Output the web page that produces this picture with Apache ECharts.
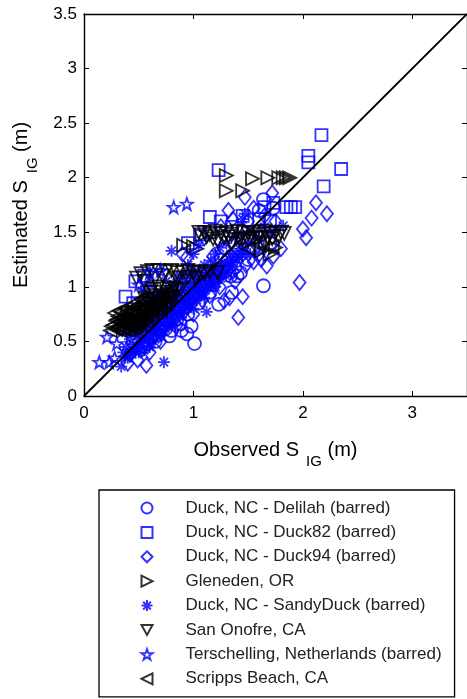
<!DOCTYPE html>
<html>
<head>
<meta charset="utf-8">
<script src="https://cdn.jsdelivr.net/npm/echarts@6/dist/echarts.min.js"></script>
<style>
  html, body { margin: 0; padding: 0; background: #fff; }
  #chart { width: 467px; height: 699px; }
</style>
</head>
<body>
<div id="chart"></div>
<script>
let names = [
  "Duck, NC - Delilah (barred)",
  "Duck, NC - Duck82 (barred)",
  "Duck, NC - Duck94 (barred)",
  "Gleneden, OR",
  "Duck, NC - SandyDuck (barred)",
  "San Onofre, CA",
  "Terschelling, Netherlands (barred)",
  "Scripps Beach, CA",
];

// [observed, estimated]
let delilah = [
  [1.64, 1.01], [1.01, 0.48], [0.94, 0.57], [0.98, 0.64], [0.89, 0.6], [1.43, 1.13],
  [1.4, 1.1], [1.23, 0.84], [1.64, 1.8], [1.73, 1.72], [1.6, 1.7], [0.55, 0.45],
  [0.65, 0.5], [0.75, 0.62], [0.85, 0.7], [0.7, 0.8], [0.8, 0.85], [0.9, 0.92],
  [1.0, 0.9], [1.1, 1.0], [1.15, 0.95], [1.2, 1.1], [1.3, 1.15], [1.5, 1.25],
  [1.55, 1.35], [1.7, 1.4], [0.6, 0.7], [0.5, 0.6], [0.45, 0.5], [1.05, 0.85],
  [0.95, 0.75], [0.78, 0.55], [1.35, 0.95], [1.45, 1.45], [1.25, 1.25],
  [0.58, 0.48], [0.62, 0.54], [0.68, 0.56], [0.72, 0.66], [0.76, 0.69], [0.82, 0.72],
  [0.86, 0.8], [0.92, 0.82], [0.96, 0.88], [1.02, 0.94], [1.06, 1.02], [1.12, 1.04],
  [1.18, 1.02], [1.22, 1.16], [1.28, 1.18], [1.34, 1.1], [0.88, 0.66], [0.8, 0.6],
  [0.7, 0.6], [1.38, 1.18],
];
let duck82 = [
  [2.17, 2.39], [2.05, 2.2], [2.05, 2.14], [2.35, 2.08], [2.19, 1.92], [1.23, 2.07],
  [1.85, 1.73], [1.89, 1.73], [1.93, 1.73], [1.15, 1.64], [1.06, 1.48], [0.38, 0.91],
  [0.47, 1.05], [1.25, 1.6], [1.65, 1.73], [1.73, 1.77], [1.35, 1.55], [1.45, 1.65],
  [1.6, 1.62], [0.55, 1.1], [0.45, 0.85], [0.6, 0.95], [0.95, 1.4], [1.15, 1.5],
  [1.5, 1.45], [1.7, 1.6],
];
let duck94 = [
  [1.97, 1.04], [2.12, 1.77], [2.22, 1.67], [2.08, 1.63], [2.0, 1.53], [2.03, 1.45],
  [1.41, 0.72], [1.45, 0.91], [1.33, 0.9], [0.57, 0.28], [0.49, 0.33], [1.73, 1.28],
  [1.67, 1.19], [1.55, 1.23], [1.47, 1.82], [1.72, 1.86], [1.32, 1.7], [0.94, 1.27],
  [0.9, 1.3], [1.28, 0.87], [1.38, 1.05], [1.6, 1.3], [1.8, 1.35], [1.5, 1.6],
  [1.25, 1.55], [1.1, 1.45], [1.3, 1.25], [1.4, 1.35], [1.2, 1.05], [1.15, 0.92],
  [1.0, 0.75], [0.85, 0.65], [0.7, 0.5], [0.6, 0.4], [0.42, 0.38], [1.75, 1.6],
  [1.65, 1.65], [1.55, 1.72], [0.4, 0.3], [0.52, 0.42], [0.64, 0.55], [0.78, 0.68],
  [0.92, 0.78], [1.08, 0.88], [1.24, 1.0], [1.36, 1.14], [1.48, 1.2], [1.62, 1.25],
  [1.58, 1.38], [1.44, 1.52], [1.36, 1.62], [1.28, 1.35], [1.18, 1.28],
];
let gleneden = [
  [1.3, 2.02], [1.54, 1.99], [1.68, 2.0], [1.78, 2.0], [1.82, 2.0], [1.85, 2.0],
  [1.88, 2.0], [1.3, 1.88], [1.45, 1.88], [0.91, 1.38], [1.03, 1.35], [1.0, 1.37],
  [1.08, 1.47], [1.62, 1.33], [1.75, 1.36], [1.7, 1.3],
];
let sandyDuck = [
  [0.34, 0.27], [0.73, 0.31], [0.38, 0.36], [0.42, 0.4], [0.45, 0.47], [0.48, 0.44],
  [0.5, 0.52], [0.52, 0.58], [0.55, 0.5], [0.58, 0.62], [0.6, 0.55], [0.62, 0.68],
  [0.64, 0.6], [0.66, 0.72], [0.68, 0.64], [0.7, 0.78], [0.72, 0.7], [0.74, 0.82],
  [0.76, 0.74], [0.78, 0.88], [0.8, 0.78], [0.82, 0.92], [0.84, 0.84], [0.86, 0.96],
  [0.88, 0.86], [0.9, 1.0], [0.92, 0.9], [0.94, 1.04], [0.96, 0.94], [0.98, 1.08],
  [1.0, 0.96], [1.02, 1.12], [1.04, 1.0], [1.06, 1.16], [1.08, 1.04], [1.1, 1.2],
  [1.12, 0.77], [1.14, 1.1], [1.16, 1.24], [1.18, 1.14], [1.2, 1.3], [1.22, 1.18],
  [1.24, 1.36], [1.26, 1.22], [1.3, 1.4], [1.34, 1.3], [1.38, 1.45], [1.42, 1.35],
  [1.45, 1.62], [1.47, 1.67], [1.5, 1.4], [1.55, 1.5], [1.6, 1.45], [1.65, 1.55],
  [1.7, 1.48], [1.75, 1.52], [1.82, 1.56], [0.8, 1.33], [0.55, 0.95], [0.6, 1.02],
  [0.5, 0.85], [0.45, 0.72], [0.4, 0.6], [0.65, 0.85], [0.7, 0.95], [0.75, 1.05],
  [0.85, 1.1], [0.95, 1.2], [1.0, 1.3], [1.05, 1.38], [0.9, 0.75], [1.0, 0.8],
  [1.1, 0.9], [1.2, 1.0], [1.3, 1.1], [0.8, 0.65], [0.7, 0.55], [0.6, 0.45],
  [0.85, 0.7], [0.95, 0.85], [1.05, 0.95], [1.15, 1.02], [1.25, 1.08], [1.35, 1.2],
  [1.4, 1.25], [1.52, 1.3], [0.5, 0.4],
  [0.4, 0.35], [0.44, 0.38], [0.47, 0.41], [0.52, 0.46], [0.55, 0.42], [0.57, 0.53],
  [0.6, 0.49], [0.63, 0.57], [0.65, 0.52], [0.67, 0.61], [0.69, 0.58], [0.71, 0.63],
  [0.73, 0.59], [0.75, 0.68], [0.77, 0.64], [0.79, 0.72], [0.81, 0.69], [0.83, 0.75],
  [0.85, 0.78], [0.87, 0.74], [0.89, 0.81], [0.91, 0.79], [0.93, 0.85], [0.95, 0.8],
  [0.97, 0.89], [0.99, 0.86], [1.01, 0.92], [1.03, 0.88], [1.05, 0.99], [1.07, 0.93],
  [1.09, 1.01], [1.11, 0.97], [1.13, 1.06], [1.15, 1.0], [1.17, 1.08], [1.19, 1.05],
  [1.21, 1.12], [1.23, 1.07], [1.25, 1.15], [1.27, 1.12], [1.29, 1.2], [1.31, 1.16],
  [1.33, 1.25], [1.36, 1.22], [1.39, 1.3], [1.42, 1.27], [1.45, 1.33], [1.48, 1.3],
  [0.58, 0.72], [0.62, 0.78], [0.66, 0.82], [0.7, 0.87], [0.74, 0.92], [0.78, 0.97],
  [0.82, 1.02], [0.86, 1.04], [0.9, 1.08], [0.94, 1.12], [0.98, 1.15], [0.54, 0.66],
  [0.5, 0.62], [0.46, 0.58], [0.42, 0.52], [0.38, 0.45], [0.36, 0.4], [0.6, 0.62],
  [0.64, 0.66], [0.68, 0.7], [0.72, 0.76], [0.76, 0.8], [0.8, 0.83], [0.84, 0.88],
  [0.88, 0.92], [0.92, 0.96], [0.96, 1.0], [1.0, 1.03], [1.04, 1.07], [1.08, 1.1],
  [1.12, 1.13], [1.16, 1.16],
];
let sanOnofre = [
  [1.05, 1.5], [1.1, 1.5], [1.15, 1.48], [1.2, 1.51], [1.25, 1.49], [1.3, 1.5],
  [1.35, 1.48], [1.4, 1.51], [1.45, 1.5], [1.5, 1.49], [1.55, 1.5], [1.6, 1.48],
  [1.65, 1.51], [1.7, 1.49], [1.75, 1.5], [1.8, 1.5], [1.83, 1.49], [1.22, 1.42],
  [1.35, 1.4], [1.5, 1.42], [1.65, 1.4], [1.28, 1.45], [1.45, 1.44], [1.6, 1.45],
  [1.12, 1.46], [1.18, 1.44], [1.32, 1.46], [1.42, 1.43], [1.55, 1.45], [1.72, 1.44],
  [1.78, 1.46], [1.68, 1.45],
  [0.48, 1.08], [0.52, 1.12], [0.58, 1.14], [0.62, 1.15], [0.68, 1.15], [0.75, 1.14],
  [0.8, 1.15], [0.85, 1.13], [0.9, 1.14], [0.95, 1.15], [1.0, 1.13], [1.05, 1.14],
  [1.1, 1.12], [1.15, 1.14], [1.22, 1.13], [0.65, 1.08], [0.85, 1.08], [0.72, 1.1],
  [0.55, 1.05], [0.95, 1.09], [1.02, 1.08],
  [0.55, 0.9], [0.6, 0.95], [0.65, 0.92], [0.7, 0.95], [0.75, 0.98], [0.8, 0.95],
  [0.85, 0.97], [0.6, 0.85], [0.7, 0.88], [0.8, 0.9], [0.88, 0.98], [0.72, 0.82],
  [0.66, 0.78], [0.62, 0.98], [0.68, 1.0], [0.76, 0.93], [0.82, 0.99], [0.58, 0.88],
];
let terschelling = [
  [0.82, 1.73], [0.94, 1.76], [0.21, 0.54], [0.14, 0.31], [0.23, 0.31], [0.28, 0.35],
  [0.6, 1.13], [0.7, 1.15], [0.5, 1.02], [0.4, 0.78], [0.35, 0.6], [0.45, 0.65],
  [0.55, 0.8], [0.65, 0.9], [0.3, 0.48],
];
let scripps = [
  [0.28, 0.76], [0.25, 0.64], [0.3, 0.62], [0.33, 0.68], [0.35, 0.72], [0.38, 0.65],
  [0.4, 0.75], [0.42, 0.7], [0.45, 0.78], [0.48, 0.72], [0.5, 0.8], [0.52, 0.75],
  [0.55, 0.82], [0.58, 0.77], [0.6, 0.85], [0.35, 0.62], [0.4, 0.66], [0.45, 0.68],
  [0.3, 0.7], [0.38, 0.8], [0.5, 0.68], [0.62, 0.8], [0.65, 0.88], [0.55, 0.72],
  [0.43, 0.62], [0.32, 0.78], [0.48, 0.65], [0.7, 0.9], [0.75, 0.85], [0.68, 0.82],
  [1.5, 1.35], [1.6, 1.38], [1.72, 1.37],
  [0.24, 0.6], [0.29, 0.61], [0.33, 0.6], [0.37, 0.61], [0.41, 0.6], [0.45, 0.62],
  [0.27, 0.65], [0.31, 0.64], [0.36, 0.66], [0.42, 0.65], [0.47, 0.63], [0.51, 0.66],
  [0.29, 0.69], [0.34, 0.7], [0.39, 0.69], [0.44, 0.71], [0.49, 0.69], [0.53, 0.7],
  [0.57, 0.68], [0.31, 0.73], [0.37, 0.74], [0.43, 0.73], [0.47, 0.75], [0.52, 0.72],
  [0.56, 0.74], [0.61, 0.73], [0.34, 0.77], [0.42, 0.78], [0.46, 0.81], [0.53, 0.79],
  [0.57, 0.8], [0.63, 0.77], [0.66, 0.79], [0.7, 0.78], [0.44, 0.84], [0.49, 0.83],
  [0.54, 0.86], [0.59, 0.83], [0.64, 0.84], [0.69, 0.86], [0.73, 0.83], [0.77, 0.88],
  [0.52, 0.89], [0.57, 0.9], [0.62, 0.91], [0.67, 0.9], [0.72, 0.93], [0.79, 0.92],
];
let oneToOne = [[0, 0], [3.5, 3.5]];

let blue = "#0000ff";
let black = "#000000";
let font = "Liberation Sans, Arial, sans-serif";

let triRight = "path://M0,0L10,5L0,10Z";
let triDown = "path://M0,0L10,0L5,9Z";
let triLeft = "path://M10,0L0,5L10,10Z";
let asterisk = "path://M5,0L5,10M0,5L10,5M1.5,1.5L8.5,8.5M1.5,8.5L8.5,1.5";
let star =
  "path://M5,0L6.18,3.38L9.76,3.45L6.9,5.62L7.94,9.05L5,7L2.06,9.05L3.1,5.62L0.24,3.45L3.82,3.38Z";

let mk = (name, data, symbol, size, color) => ({
  name: name,
  type: "scatter",
  data: data,
  symbol: symbol,
  symbolSize: size,
  itemStyle: { color: "none", borderColor: color, borderWidth: 1.8 },
  emphasis: { disabled: true },
});

let chart = echarts.init(document.getElementById("chart"));

let axisCommon = {
  type: "value",
  min: 0,
  max: 3.5,
  splitLine: { show: false },
  axisLine: { onZero: false, lineStyle: { color: black, width: 1.4 } },
  axisTick: { inside: true, length: 5, lineStyle: { color: black } },
};

let titleRich = {
  a: { fontSize: 20, color: black, fontFamily: font },
  s: { fontSize: 15, color: black, fontFamily: font, padding: [22, 0, 0, 7] },
};

let option = {
  animation: false,
  textStyle: { fontFamily: font },
  grid: { left: 84, top: 14, width: 383, bottom: 303, containLabel: false },
  xAxis: [
    Object.assign({}, axisCommon, {
      position: "bottom",
      interval: 1,
      axisLabel: {
        color: black,
        fontSize: 17,
        margin: 9,
        showMaxLabel: false,
        formatter: (v) => (v === 3.5 ? "" : String(v)),
      },
      name: "{a|Observed S}{s|IG}{a| (m)}",
      nameLocation: "middle",
      nameGap: 36,
      nameTextStyle: { rich: titleRich },
    }),
    Object.assign({}, axisCommon, {
      position: "top",
      interval: 1,
      axisLabel: { show: false },
    }),
  ],
  yAxis: [
    Object.assign({}, axisCommon, {
      position: "left",
      interval: 0.5,
      axisLabel: { color: black, fontSize: 17, margin: 7 },
      name: "{a|Estimated S}{s|IG}{a| (m)}",
      nameLocation: "middle",
      nameGap: 44,
      nameRotate: 90,
      nameTextStyle: { rich: titleRich },
    }),
    Object.assign({}, axisCommon, {
      position: "right",
      interval: 0.5,
      axisLabel: { show: false },
    }),
  ],
  legend: {
    data: names,
    orient: "vertical",
    left: 99,
    top: 490,
    height: 200,
    padding: [9, 13, 9, 40],
    itemGap: 6.4,
    itemWidth: 11,
    itemHeight: 11,
    borderColor: black,
    borderWidth: 1.3,
    selectedMode: false,
    textStyle: {
      color: "#222",
      fontSize: 17,
      lineHeight: 18,
      fontFamily: font,
      padding: [0, 0, 0, 28],
    },
  },
  series: [
    mk(names[0], delilah, "circle", 13, blue),
    mk(names[1], duck82, "rect", 12, blue),
    mk(names[2], duck94, "diamond", [12, 15], blue),
    mk(names[3], gleneden, triRight, 13, black),
    mk(names[4], sandyDuck, asterisk, 12, blue),
    mk(names[5], sanOnofre, triDown, 13, black),
    mk(names[6], terschelling, star, 12, blue),
    mk(names[7], scripps, triLeft, 13, black),
    {
      type: "line",
      data: oneToOne,
      symbol: "none",
      lineStyle: { color: black, width: 1.8 },
      silent: true,
    },
  ],
};

chart.setOption(option);
</script>
</body>
</html>
